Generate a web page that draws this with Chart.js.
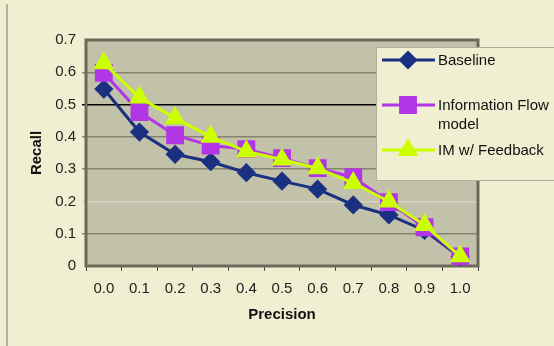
<!DOCTYPE html>
<html>
<head>
<meta charset="utf-8">
<script src="https://cdn.jsdelivr.net/npm/chart.js@4.4.0/dist/chart.umd.min.js"></script>
<style>
  html, body { margin: 0; padding: 0; background: #f1efd2; }
  #wrap { position: relative; width: 554px; height: 346px; }
  #frame { position: absolute; left: 6px; top: 4px; width: 2px; height: 342px; background: #b4b3a0; }
  canvas { position: absolute; left: 0; top: 0; }
</style>
</head>
<body>
<div id="wrap">
  <div id="frame"></div>
  <canvas id="prChart" width="554" height="346"></canvas>
</div>
<script>
  // precision / recall values
  const precision = ['0.0', '0.1', '0.2', '0.3', '0.4', '0.5', '0.6', '0.7', '0.8', '0.9', '1.0'];
  const baseline = [0.548, 0.415, 0.346, 0.323, 0.289, 0.263, 0.238, 0.189, 0.158, 0.11, 0.028];
  const infoFlow = [0.598, 0.477, 0.405, 0.373, 0.362, 0.334, 0.303, 0.275, 0.198, 0.12, 0.03];
  const imFeedback = [0.628, 0.522, 0.458, 0.4, 0.355, 0.33, 0.303, 0.257, 0.2, 0.127, 0.03];
  const yTicks = [0, 0.1, 0.2, 0.3, 0.4, 0.5, 0.6, 0.7];

  const ctx = document.getElementById('prChart').getContext('2d');
  const font = '"Liberation Sans", Arial, sans-serif';

  function gridColor(v) {
    if (Math.abs(v - 0.5) < 0.001) return '#000000';
    if (Math.abs(v - 0.2) < 0.001) return '#d6d4bf';
    if (v === 0 || Math.abs(v - 0.7) < 0.001) return 'rgba(0,0,0,0)';
    return '#85846e';
  }

  // plot background + frame
  const plotFrame = {
    id: 'plotFrame',
    beforeDraw(chart) {
      const a = chart.chartArea, c = chart.ctx;
      c.save();
      c.fillStyle = '#c2c1a9';
      c.fillRect(a.left, a.top, a.right - a.left, a.bottom - a.top);
      c.restore();
    },
    beforeDatasetsDraw(chart) {
      const a = chart.chartArea, c = chart.ctx;
      c.save();
      c.strokeStyle = '#6c6b5a';
      c.lineWidth = 3;
      c.strokeRect(a.left, a.top, a.right - a.left, a.bottom - a.top);
      c.restore();
    }
  };

  // legend box that sits over the plot, like the original
  const boxLegend = {
    id: 'boxLegend',
    afterDraw(chart) {
      const c = chart.ctx;
      const rows = [
        { y: 60, lines: ['Baseline'] },
        { y: 105, lines: ['Information Flow', 'model'] },
        { y: 150, lines: ['IM w/ Feedback'] }
      ];
      c.save();
      c.fillStyle = '#f1efd2';
      c.fillRect(376, 47, 190, 133);
      c.strokeStyle = '#b0af9b';
      c.lineWidth = 1;
      c.strokeRect(376.5, 47.5, 190, 133);
      chart.data.datasets.forEach((ds, i) => {
        const r = rows[i];
        c.strokeStyle = ds.borderColor;
        c.lineWidth = 3;
        c.beginPath();
        c.moveTo(382, r.y);
        c.lineTo(435, r.y);
        c.stroke();
        c.fillStyle = ds.pointBackgroundColor;
        c.strokeStyle = ds.pointBorderColor;
        Chart.helpers.drawPoint(c, {
          pointStyle: ds.pointStyle,
          radius: ds.pointRadius,
          borderWidth: 1
        }, 408, r.y);
        c.fillStyle = '#111';
        c.font = '15px ' + font;
        c.textBaseline = 'middle';
        c.textAlign = 'left';
        r.lines.forEach((t, k) => c.fillText(t, 438, r.y + 1 + k * 19));
      });
      c.restore();
    }
  };

  new Chart(ctx, {
    type: 'line',
    data: {
      labels: precision,
      datasets: [
        {
          label: 'Baseline',
          data: baseline,
          borderColor: '#1b3080',
          pointBackgroundColor: '#1b3080',
          pointBorderColor: '#1b3080',
          borderWidth: 3,
          pointStyle: 'rectRot',
          pointRadius: 7.5,
          order: 3,
          tension: 0
        },
        {
          label: 'Information Flow model',
          data: infoFlow,
          borderColor: '#b236e6',
          pointBackgroundColor: '#b236e6',
          pointBorderColor: '#b236e6',
          borderWidth: 3,
          pointStyle: 'rect',
          pointRadius: 10.5,
          order: 2,
          tension: 0
        },
        {
          label: 'IM w/ Feedback',
          data: imFeedback,
          borderColor: '#ccff00',
          pointBackgroundColor: '#ccff00',
          pointBorderColor: '#ccff00',
          borderWidth: 3,
          pointStyle: 'triangle',
          pointRadius: 9,
          order: 1,
          tension: 0
        }
      ]
    },
    options: {
      responsive: false,
      animation: false,
      layout: { padding: { top: 40, right: 76, left: 24, bottom: 18 } },
      scales: {
        x: {
          offset: true,
          afterFit(scale) { scale.height = 62; },
          grid: { display: true, offset: true, drawOnChartArea: false, drawTicks: true, tickLength: 5, color: '#444' },
          border: { display: false },
          ticks: { color: '#222', padding: 9, font: { family: font, size: 15 } },
          title: {
            display: true,
            text: 'Precision',
            color: '#111',
            padding: { top: 4 },
            font: { family: font, size: 15, weight: 'bold' }
          }
        },
        y: {
          min: 0,
          max: 0.7,
          afterFit(scale) { scale.width = 62; },
          afterBuildTicks(scale) { scale.ticks = yTicks.map(v => ({ value: v })); },
          grid: {
            color: c => gridColor(c.tick.value),
            lineWidth: 1.5,
            drawTicks: true,
            tickLength: 4
          },
          border: { display: false },
          ticks: {
            color: '#222',
            padding: 6,
            font: { family: font, size: 15 },
            callback: v => v === 0 ? '0' : v.toFixed(1)
          },
          title: {
            display: true,
            text: 'Recall',
            color: '#111',
            padding: { bottom: 8 },
            font: { family: font, size: 15, weight: 'bold' }
          }
        }
      },
      plugins: {
        legend: { display: false },
        tooltip: { enabled: false }
      }
    },
    plugins: [plotFrame, boxLegend]
  });
</script>
</body>
</html>
